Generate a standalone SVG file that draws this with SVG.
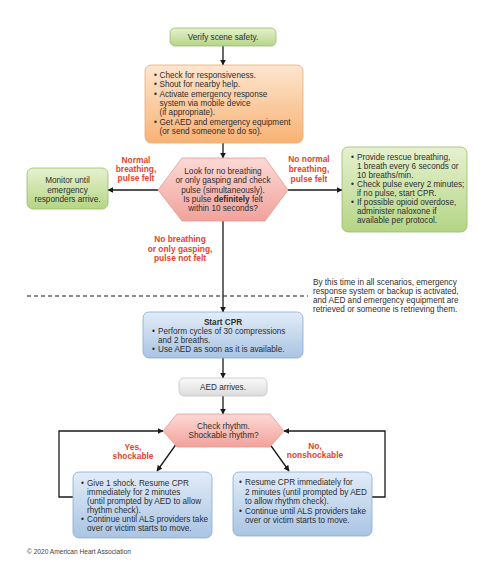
<svg xmlns="http://www.w3.org/2000/svg" width="484" height="564" viewBox="0 0 484 564">
<defs>
<linearGradient id="gGreen" x1="0" y1="0" x2="0" y2="1"><stop offset="0" stop-color="#e6f1cf"/><stop offset="1" stop-color="#b5d585"/></linearGradient>
<linearGradient id="gOrange" x1="0" y1="0" x2="0" y2="1"><stop offset="0" stop-color="#fde6cf"/><stop offset="1" stop-color="#f8b274"/></linearGradient>
<linearGradient id="gPink" x1="0" y1="0" x2="0" y2="1"><stop offset="0" stop-color="#fcd9d5"/><stop offset="1" stop-color="#f1a29b"/></linearGradient>
<linearGradient id="gBlue" x1="0" y1="0" x2="0" y2="1"><stop offset="0" stop-color="#e2ecf7"/><stop offset="1" stop-color="#a9c4e3"/></linearGradient>
<linearGradient id="gGray" x1="0" y1="0" x2="0" y2="1"><stop offset="0" stop-color="#fafafa"/><stop offset="1" stop-color="#dcdcdc"/></linearGradient>
<marker id="arr" viewBox="0 0 10 10" refX="9" refY="5" markerWidth="6" markerHeight="6" orient="auto" markerUnits="userSpaceOnUse"><path d="M0,0 L10,5 L0,10 z" fill="#1a1a1a"/></marker>
</defs>
<style>
text{font-family:"Liberation Sans",Arial,sans-serif;font-size:8.2px;fill:#2e2e2e}
.c{text-anchor:middle}
.red{fill:#e0452c;font-weight:bold;font-size:8.4px;text-anchor:middle}
.b{font-weight:bold}
.green{fill:url(#gGreen);stroke:#97bd6a;stroke-width:0.8}
.orange{fill:url(#gOrange);stroke:#f0ab72;stroke-width:0.8}
.pink{fill:url(#gPink);stroke:#e99890;stroke-width:0.8}
.blue{fill:url(#gBlue);stroke:#88a9d2;stroke-width:0.8}
.gray{fill:url(#gGray);stroke:#c4c4c4;stroke-width:0.8}
.ln{stroke:#1a1a1a;stroke-width:1.3;fill:none}
</style>

<g id="connectors">
<line class="ln" x1="223" y1="46" x2="223" y2="65" marker-end="url(#arr)"/>
<line class="ln" x1="223" y1="143" x2="223" y2="158" marker-end="url(#arr)"/>
<line class="ln" x1="158" y1="190" x2="108" y2="190" marker-end="url(#arr)"/>
<line class="ln" x1="288" y1="190" x2="342" y2="190" marker-end="url(#arr)"/>
<line class="ln" x1="223" y1="221" x2="223" y2="312" marker-end="url(#arr)"/>
<line class="ln" x1="223" y1="358" x2="223" y2="378" marker-end="url(#arr)"/>
<line class="ln" x1="223" y1="396" x2="223" y2="414" marker-end="url(#arr)"/>
<line class="ln" x1="177" y1="443" x2="157" y2="471" marker-end="url(#arr)"/>
<line class="ln" x1="269" y1="443" x2="289" y2="471" marker-end="url(#arr)"/>
<polyline class="ln" points="73,497 59,497 59,431 163,431" marker-end="url(#arr)"/>
<polyline class="ln" points="372,497 385,497 385,431 284,431" marker-end="url(#arr)"/>
<line x1="27" y1="296" x2="308" y2="296" stroke="#1a1a1a" stroke-width="1.2" stroke-dasharray="4,3"/>
</g>

<g id="verify">
<rect class="green" x="170" y="28" width="106" height="18" rx="5"/>
<text class="c" x="223" y="40">Verify scene safety.</text>
</g>

<g id="check-responsive">
<rect class="orange" x="145" y="65" width="158" height="78" rx="6"/>
<text x="154" y="78">•</text><text x="159.5" y="78">Check for responsiveness.</text>
<text x="154" y="87.3">•</text><text x="159.5" y="87.3">Shout for nearby help.</text>
<text x="154" y="96.6">•</text><text x="159.5" y="96.6">Activate emergency response</text>
<text x="159.5" y="105.9">system via mobile device</text>
<text x="159.5" y="115.2">(if appropriate).</text>
<text x="154" y="124.5">•</text><text x="159.5" y="124.5">Get AED and emergency equipment</text>
<text x="159.5" y="133.8">(or send someone to do so).</text>
</g>

<g id="look-breathing">
<polygon class="pink" points="158,190 182,158 265,158 288,190 265,221 182,221"/>
<text class="c" x="223" y="174">Look for no breathing</text>
<text class="c" x="223" y="183.3">or only gasping and check</text>
<text class="c" x="223" y="192.6">pulse (simultaneously).</text>
<text class="c" x="223" y="201.9">Is pulse <tspan class="b">definitely</tspan> felt</text>
<text class="c" x="223" y="211.2">within 10 seconds?</text>
</g>

<g id="monitor">
<rect class="green" x="27" y="168" width="81" height="41" rx="6"/>
<text class="c" x="67.5" y="183">Monitor until</text>
<text class="c" x="67.5" y="192.5">emergency</text>
<text class="c" x="67.5" y="202">responders arrive.</text>
</g>

<g id="rescue-breathing">
<rect class="green" x="342" y="147" width="125" height="85" rx="6"/>
<text x="351" y="160">•</text><text x="357" y="160">Provide rescue breathing,</text>
<text x="357" y="169">1 breath every 6 seconds or</text>
<text x="357" y="178">10 breaths/min.</text>
<text x="351" y="187">•</text><text x="357" y="187">Check pulse every 2 minutes;</text>
<text x="357" y="196">if no pulse, start CPR.</text>
<text x="351" y="205">•</text><text x="357" y="205">If possible opioid overdose,</text>
<text x="357" y="214">administer naloxone if</text>
<text x="357" y="223">available per protocol.</text>
</g>

<g id="labels">
<text class="red" x="136" y="163">Normal</text>
<text class="red" x="136" y="172">breathing,</text>
<text class="red" x="136" y="181">pulse felt</text>
<text class="red" x="309" y="162">No normal</text>
<text class="red" x="309" y="172">breathing,</text>
<text class="red" x="309" y="182">pulse felt</text>
<text class="red" x="180" y="242">No breathing</text>
<text class="red" x="180" y="252">or only gasping,</text>
<text class="red" x="180" y="261">pulse not felt</text>
<text class="red" x="133" y="450">Yes,</text>
<text class="red" x="133" y="459">shockable</text>
<text class="red" x="315" y="449">No,</text>
<text class="red" x="315" y="458">nonshockable</text>
</g>

<g id="note">
<text x="313" y="285">By this time in all scenarios, emergency</text>
<text x="313" y="294">response system or backup is activated,</text>
<text x="313" y="303">and AED and emergency equipment are</text>
<text x="313" y="312">retrieved or someone is retrieving them.</text>
</g>

<g id="start-cpr">
<rect class="blue" x="143" y="312" width="160" height="46" rx="6"/>
<text class="c b" x="223" y="324.5">Start CPR</text>
<text x="152" y="334">•</text><text x="158" y="334">Perform cycles of 30 compressions</text>
<text x="158" y="343">and 2 breaths.</text>
<text x="152" y="352">•</text><text x="158" y="352">Use AED as soon as it is available.</text>
</g>

<g id="aed-arrives">
<rect class="gray" x="179" y="378" width="88" height="18" rx="5"/>
<text class="c" x="223" y="390">AED arrives.</text>
</g>

<g id="check-rhythm">
<polygon class="pink" points="163,431 177,414 270,414 284,431 270,447 177,447"/>
<text class="c" x="223.5" y="429">Check rhythm.</text>
<text class="c" x="223.5" y="438">Shockable rhythm?</text>
</g>

<g id="shock">
<rect class="blue" x="73" y="472" width="139" height="66" rx="6"/>
<text x="81" y="486">•</text><text x="87" y="486">Give 1 shock. Resume CPR</text>
<text x="87" y="495">immediately for 2 minutes</text>
<text x="87" y="504">(until prompted by AED to allow</text>
<text x="87" y="513">rhythm check).</text>
<text x="81" y="522">•</text><text x="87" y="522">Continue until ALS providers take</text>
<text x="87" y="531">over or victim starts to move.</text>
</g>

<g id="no-shock">
<rect class="blue" x="233" y="472" width="139" height="64" rx="6"/>
<text x="239" y="485">•</text><text x="245" y="485">Resume CPR immediately for</text>
<text x="245" y="494.5">2 minutes (until prompted by AED</text>
<text x="245" y="504">to allow rhythm check).</text>
<text x="239" y="513.5">•</text><text x="245" y="513.5">Continue until ALS providers take</text>
<text x="245" y="523">over or victim starts to move.</text>
</g>

<text x="27" y="554" style="font-size:6.6px;fill:#444">© 2020 American Heart Association</text>
</svg>
